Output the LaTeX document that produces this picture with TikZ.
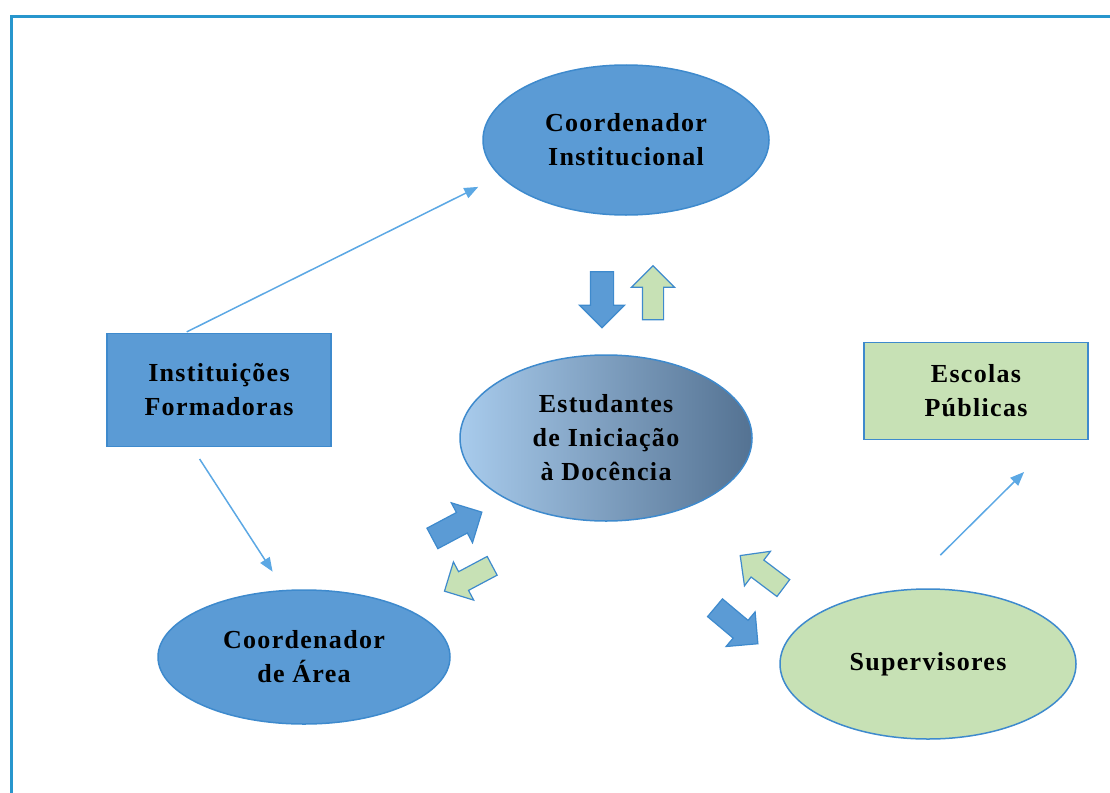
\documentclass[tikz,border=0pt]{standalone}
\usepackage{fontspec}
\setmainfont{Liberation Serif}
\usetikzlibrary{shapes.geometric,shapes.arrows,arrows.meta}

\definecolor{cellblue}{RGB}{91,155,213}
\definecolor{edgeblue}{RGB}{62,138,205}
\definecolor{cellgreen}{RGB}{199,225,181}
\definecolor{framecol}{RGB}{40,150,205}
\definecolor{linkblue}{RGB}{92,168,228}
\definecolor{shadelight}{RGB}{168,203,236}
\definecolor{shadedark}{RGB}{84,114,146}

\begin{document}
\begin{tikzpicture}[
        x=1pt,y=-1pt,
        every node/.style={font=\fontsize{26}{34}\selectfont\bfseries\addfontfeature{LetterSpace=5},align=center,text=black},
        blueoval/.style={ellipse,draw=edgeblue,fill=cellblue,line width=1.5pt,inner sep=0pt},
        greenoval/.style={ellipse,draw=edgeblue,fill=cellgreen,line width=1.5pt,inner sep=0pt},
        bluebox/.style={rectangle,draw=edgeblue,fill=cellblue,line width=1.5pt,inner sep=0pt},
        greenbox/.style={rectangle,draw=edgeblue,fill=cellgreen,line width=1.5pt,inner sep=0pt},
        bluearrow/.style={single arrow,draw=edgeblue,fill=cellblue,line width=1.2pt,inner sep=11pt,single arrow head extend=11pt,minimum height=56pt},
        greenarrow/.style={single arrow,draw=edgeblue,fill=cellgreen,line width=1.2pt,inner sep=10pt,single arrow head extend=11pt,minimum height=54pt},
        link/.style={draw=linkblue,line width=1.5pt,-{Triangle[length=14pt,width=11pt]}}
    ]
        \useasboundingbox (0,0) rectangle (1110,792);
        \draw[framecol,line width=3pt] (11,17) rectangle (1140,820);

        \node[blueoval,minimum width=286pt,minimum height=150pt] (ci) at (626,140) {Coordenador\\Institucional};
        \node[bluebox,minimum width=224pt,minimum height=113pt] (inst) at (219,390) {Instituições\\Formadoras};
        \node[ellipse,draw=edgeblue,line width=1.5pt,inner sep=0pt,left color=shadelight,right color=shadedark,
              minimum width=292pt,minimum height=166pt] (est) at (606,438) {Estudantes\\de Iniciação\\à Docência};
        \node[greenbox,minimum width=224pt,minimum height=97pt] (esc) at (976,391) {Escolas\\Públicas};
        \node[blueoval,minimum width=292pt,minimum height=134pt] (ca) at (304,657) {Coordenador\\de Área};
        \node[greenoval,minimum width=296pt,minimum height=150pt] (sup) at (928,664) {Supervisores};

        % block arrows between the ovals
        \node[bluearrow,rotate=-90] (cidown) at (602,294) {};
        \node[greenarrow,rotate=90] (ciup) at (653,298) {};
        \node[bluearrow,rotate=28] (caup) at (452,528) {};
        \node[greenarrow,rotate=208] (cadown) at (473,576) {};
        \node[greenarrow,rotate=143] (supup) at (766,575) {};
        \node[bluearrow,rotate=-40] (supdown) at (732,622) {};

        \draw[link,shorten <=2pt,shorten >=24pt] ([xshift=-34pt]inst.north) -- (ci.196);
        \draw[link,shorten <=14pt,shorten >=21pt] ([xshift=-27pt]inst.south) -- ([xshift=-20pt]ca.north);
        \draw[link,shorten <=47pt,shorten >=45pt] ([xshift=-21pt]sup.north) -- ([xshift=80pt]esc.south);
    \end{tikzpicture}
\end{document}
